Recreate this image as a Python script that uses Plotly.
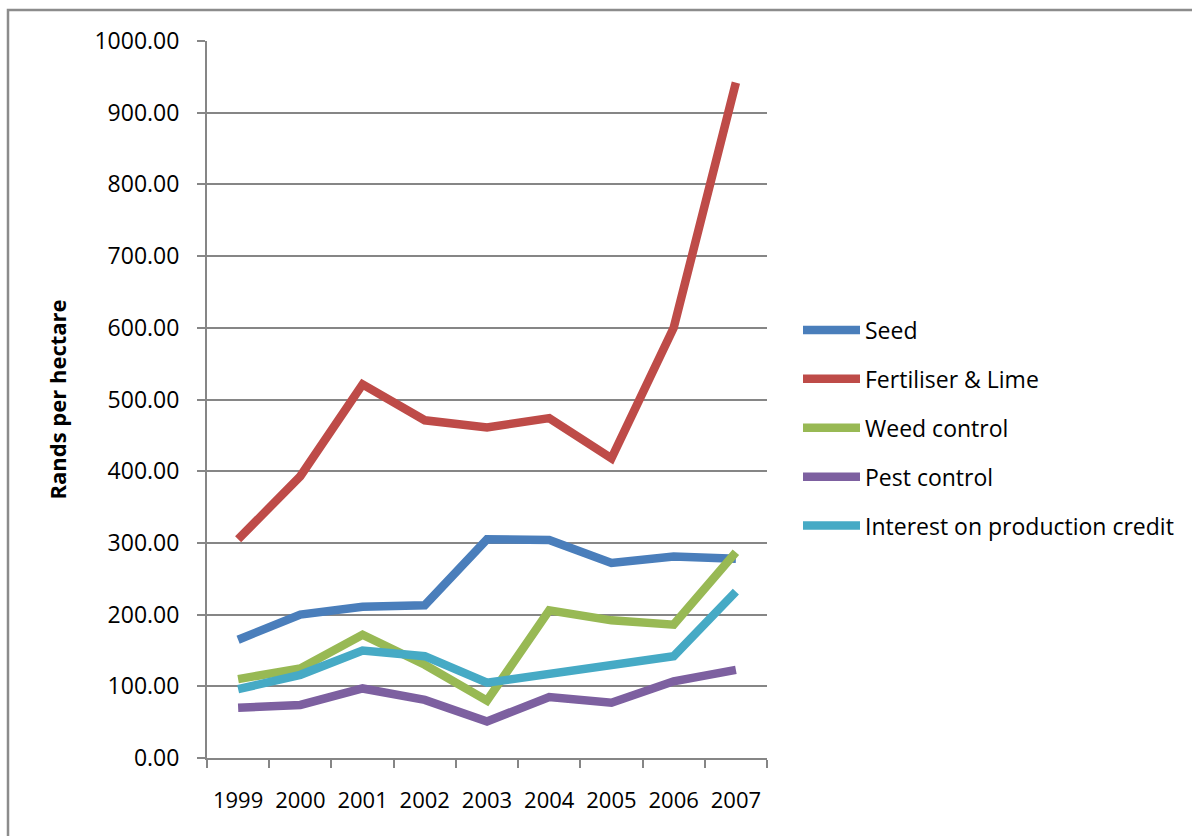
import plotly.graph_objects as go

years = ["1999", "2000", "2001", "2002", "2003", "2004", "2005", "2006", "2007"]
seed = [165, 200, 211, 213, 305, 304, 272, 281, 278]
fertiliser = [305, 393, 521, 471, 461, 474, 418, 600, 942]
weed = [110, 125, 172, 130, 80, 206, 192, 186, 287]
pest = [70, 74, 97, 81, 51, 85, 77, 107, 123]
interest = [96, 116, 150, 142, 105, 117, 128, 142, 232]

series_names = ["Seed", "Fertiliser & Lime", "Weed control", "Pest control",
                "Interest on production credit"]
series_values = [seed, fertiliser, weed, pest, interest]
colors = ["#4A7EBB", "#BE4B48", "#98B954", "#7D60A0", "#46AAC5"]

FONT = "Open Sans, Liberation Sans, sans-serif"
L, R, T, B = 207, 425, 41, 78
W, H = 1192, 836
pw, ph = W - L - R, H - T - B

fig = go.Figure()
for name, vals, col in zip(series_names, series_values, colors):
    fig.add_trace(go.Scatter(
        x=years, y=vals, mode="lines", name=name, legendgroup=name,
        line=dict(color=col, width=8.5),
    ))

fig.update_layout(
    width=W, height=H,
    margin=dict(l=L, r=R, t=T, b=B),
    paper_bgcolor="white", plot_bgcolor="white",
    font=dict(family=FONT, size=22, color="#000000"),
    showlegend=True,
    legend=dict(
        x=(798 - L) / pw, xanchor="left",
        y=(758 - 428) / ph, yanchor="middle",
        font=dict(family=FONT, size=23, color="#000000"),
        itemwidth=57, tracegroupgap=16,
        bgcolor="rgba(0,0,0,0)",
    ),
    xaxis=dict(
        type="category", range=[-0.5, 8.5], tickangle=0, automargin=False,
        tickson="boundaries", ticks="outside", ticklen=8,
        tickcolor="#868686", tickwidth=2,
        showline=True, linecolor="#868686", linewidth=2,
        showgrid=False, ticklabelstandoff=22,
        tickfont=dict(family=FONT, size=22),
    ),
    yaxis=dict(
        range=[0, 1000], dtick=100, tickformat=".2f", automargin=False,
        ticks="outside", ticklen=8, tickcolor="#868686", tickwidth=2,
        showline=True, linecolor="#868686", linewidth=2,
        showgrid=True, gridcolor="#868686", gridwidth=2,
        zeroline=False, ticklabelstandoff=13,
        tickfont=dict(family=FONT, size=23),
        title=dict(text="<b>Rands per hectare</b>", standoff=22,
                   font=dict(family=FONT, size=22)),
    ),
    shapes=[dict(
        type="rect", xref="paper", yref="paper",
        x0=(8 - L) / pw, x1=1.9, y0=-0.5, y1=(758 - 10) / ph,
        line=dict(color="#8C8C8C", width=2.5), fillcolor="rgba(0,0,0,0)",
        layer="below",
    )],
)

fig.write_html("out.html")
